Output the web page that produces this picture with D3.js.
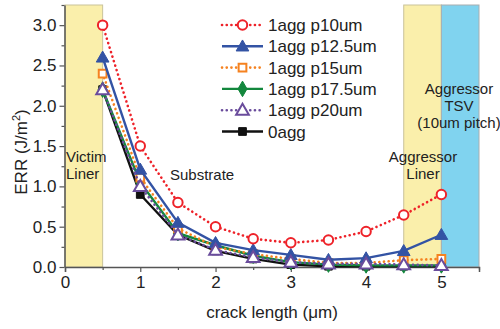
<!DOCTYPE html>
<html>
<head>
<meta charset="utf-8">
<script src="https://cdn.jsdelivr.net/npm/d3@7"></script>
<style>
  body { margin: 0; background: #fff; }
  svg { display: block; font-family: "Liberation Sans", Arial, sans-serif; }
</style>
</head>
<body>
<div id="chart"></div>
<script>
// crack length positions (um)
let crack = [0.5, 1, 1.5, 2, 2.5, 3, 3.5, 4, 4.5, 5];

// ERR values
let p10 = [3.0, 1.5, 0.8, 0.5, 0.35, 0.3, 0.335, 0.44, 0.645, 0.9];
let p125 = [2.6, 1.21, 0.55, 0.3, 0.21, 0.15, 0.09, 0.11, 0.2, 0.4];
let p15 = [2.4, 1.11, 0.48, 0.25, 0.16, 0.1, 0.05, 0.05, 0.085, 0.1];
let p175 = [2.2, 1.05, 0.42, 0.27, 0.14, 0.06, 0.03, 0.02, 0.02, 0.02];
let p20 = [2.2, 1.0, 0.4, 0.21, 0.12, 0.06, 0.04, 0.04, 0.03, 0.02];
let agg0 = [2.2, 0.9, 0.4, 0.2, 0.1, 0.03, 0.01, 0.01, 0.01, 0.01];

let xTicks = [0, 1, 2, 3, 4, 5];
let yTicks = [0, 0.5, 1.0, 1.5, 2.0, 2.5, 3.0];

let series = [
    {name: "1agg p10um",   vals: p10,  color: "#ee2229", dash: true,  shape: "circle",   open: true},
    {name: "1agg p12.5um", vals: p125, color: "#3353a4", dash: false, shape: "triangle", open: false},
    {name: "1agg p15um",   vals: p15,  color: "#f58220", dash: true,  shape: "square",   open: true},
    {name: "1agg p17.5um", vals: p175, color: "#13873d", dash: false, shape: "diamond",  open: false},
    {name: "1agg p20um",   vals: p20,  color: "#6a4c9c", dash: true,  shape: "triangle", open: true},
    {name: "0agg",         vals: agg0, color: "#111111", dash: false, shape: "square",   open: false}
];
// drawing order (last on top)
let drawOrder = [5, 3, 2, 1, 4, 0];

let width = 500, height = 329;

let x = d3.scaleLinear().domain([0, 5.5]).range([65, 479]);
let y = d3.scaleLinear().domain([0, 3.25]).range([267, 5]);

const svg = d3.select("#chart").append("svg")
    .attr("width", width).attr("height", height);

// shaded regions
svg.append("rect")
    .attr("x", x(0)).attr("y", y(3.25))
    .attr("width", x(0.5) - x(0)).attr("height", y(0) - y(3.25))
    .attr("fill", "#faefab").attr("stroke", "#c9c39a").attr("stroke-width", 1);
svg.append("rect")
    .attr("x", x(4.5)).attr("y", y(3.25))
    .attr("width", x(5) - x(4.5)).attr("height", y(0) - y(3.25))
    .attr("fill", "#faefab").attr("stroke", "#c9c39a").attr("stroke-width", 1);
svg.append("rect")
    .attr("x", x(5)).attr("y", y(3.25))
    .attr("width", x(5.5) - x(5)).attr("height", y(0) - y(3.25))
    .attr("fill", "#80d3ef").attr("stroke", "#a8aeb0").attr("stroke-width", 1);

// region labels
let note = (tx, ty, str, anchor) => svg.append("text")
    .attr("x", tx).attr("y", ty)
    .attr("text-anchor", anchor || "start")
    .attr("font-size", 15).attr("fill", "#222")
    .text(str);
note(66, 162, "Victim");
note(66, 179, "Liner");
note(170, 180, "Substrate");
note(423, 162, "Aggressor", "middle");
note(423, 179, "Liner", "middle");
note(459, 93.5, "Aggressor", "middle");
note(459, 110.5, "TSV", "middle");
note(459, 128, "(10um pitch)", "middle");

// axes
let xAxis = g => g
    .attr("transform", `translate(0,${y(0)})`)
    .call(d3.axisBottom(x).tickValues(xTicks).tickFormat(d3.format("d")).tickSize(5).tickPadding(4))
    .call(g => g.selectAll(".tick text").attr("font-size", 17).attr("fill", "#222"));
let xMinor = g => g
    .attr("transform", `translate(0,${y(0)})`)
    .call(d3.axisBottom(x).tickValues([0.5, 1.5, 2.5, 3.5, 4.5, 5.5]).tickFormat("").tickSize(3).tickSizeOuter(0))
    .call(g => g.select(".domain").remove());
let yAxis = g => g
    .attr("transform", `translate(${x(0) - 0.5},0)`)
    .call(d3.axisLeft(y).tickValues(yTicks).tickFormat(d3.format(".1f")).tickSize(5).tickPadding(3).tickSizeOuter(0))
    .call(g => g.selectAll(".tick text").attr("font-size", 17).attr("fill", "#222"));
let yMinor = g => g
    .attr("transform", `translate(${x(0) - 0.5},0)`)
    .call(d3.axisLeft(y).tickValues([0.25, 0.75, 1.25, 1.75, 2.25, 2.75, 3.25]).tickFormat("").tickSize(3).tickSizeOuter(0))
    .call(g => g.select(".domain").remove());

svg.append("g").call(xAxis);
svg.append("g").call(xMinor);
svg.append("g").call(yAxis);
svg.append("g").call(yMinor);
svg.selectAll(".domain").attr("stroke", "#555").attr("stroke-width", 1.5);
svg.selectAll(".tick line").attr("stroke", "#555").attr("stroke-width", 1.2);

// axis titles
svg.append("text")
    .attr("x", 272).attr("y", 318)
    .attr("text-anchor", "middle").attr("font-size", 17).attr("fill", "#222")
    .text("crack length (\u03bcm)");
let yl = svg.append("text")
    .attr("transform", "translate(27,152) rotate(-90)")
    .attr("text-anchor", "middle").attr("font-size", 17).attr("fill", "#222");
yl.append("tspan").text("ERR (J/m");
yl.append("tspan").attr("font-size", 11).attr("dy", -7).text("2");
yl.append("tspan").attr("dy", 7).text(")");

// markers
let symType = {circle: d3.symbolCircle, triangle: d3.symbolTriangle, square: d3.symbolSquare, diamond: d3.symbolDiamond};
let symSize = {circle: 70, triangle: 70, square: 60, diamond: 70};
let drawMarker = (g, s, px, py) => {
    let m = g.append("path")
        .attr("d", d3.symbol().type(symType[s.shape]).size(symSize[s.shape])())
        .attr("transform", `translate(${px},${py + (s.shape === "triangle" ? 1 : 0)})`);
    if (s.open) m.attr("fill", "#fff").attr("stroke", s.color).attr("stroke-width", 2);
    else m.attr("fill", s.color).attr("stroke", s.color).attr("stroke-width", 1);
};

let line = d3.line().x(d => x(d[0])).y(d => y(d[1]));

drawOrder.forEach(i => {
    let s = series[i];
    let g = svg.append("g");
    let pts = crack.map((c, j) => [c, s.vals[j]]);
    let p = g.append("path")
        .attr("d", line(pts))
        .attr("fill", "none")
        .attr("stroke", s.color)
        .attr("stroke-width", s.dash ? 2.6 : 2.4);
    if (s.dash) p.attr("stroke-dasharray", "0.1,4.6").attr("stroke-linecap", "round");
    pts.forEach(d => drawMarker(g, s, x(d[0]), y(d[1])));
});

// legend
let leg = svg.append("g");
series.forEach((s, i) => {
    let ly = 25 + i * 21.3;
    let l = leg.append("line")
        .attr("x1", 222).attr("x2", 263).attr("y1", ly).attr("y2", ly)
        .attr("stroke", s.color).attr("stroke-width", s.dash ? 2.6 : 2.4);
    if (s.dash) l.attr("stroke-dasharray", "0.1,4.6").attr("stroke-linecap", "round");
    drawMarker(leg, s, 242.5, ly);
    leg.append("text")
        .attr("x", 268).attr("y", ly).attr("dy", "0.36em")
        .attr("font-size", 17).attr("fill", "#222")
        .text(s.name);
});
</script>
</body>
</html>
